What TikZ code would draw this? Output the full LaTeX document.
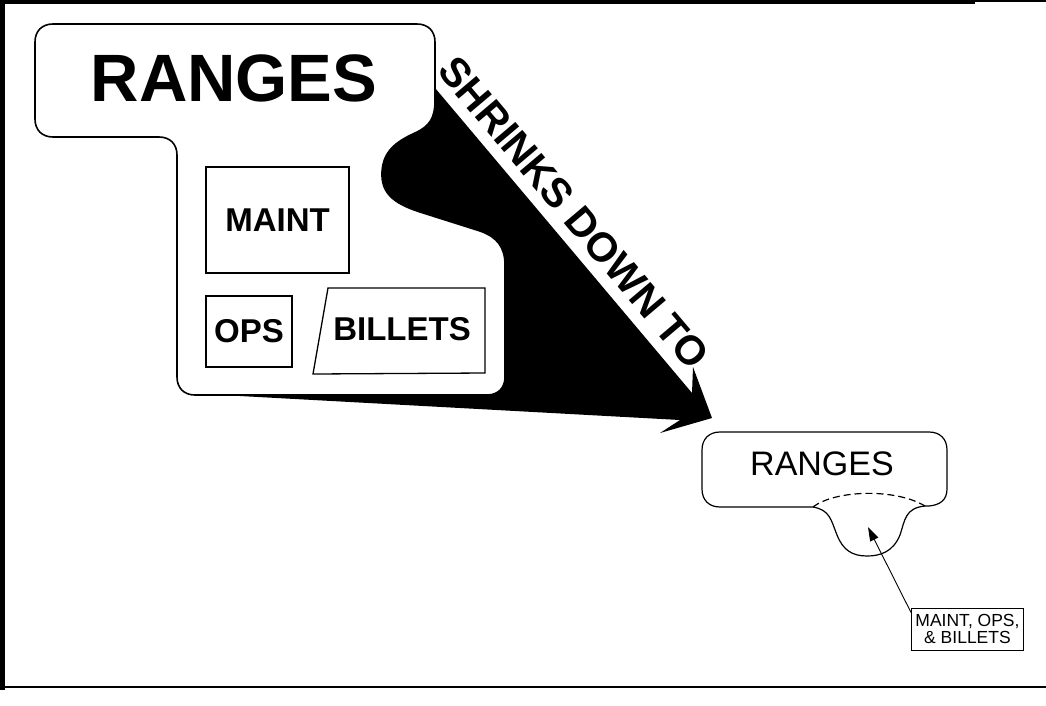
\documentclass[tikz,border=0pt]{standalone}
\usepackage{fontspec}
\setmainfont{Liberation Sans}
\usetikzlibrary{arrows.meta}
\tikzset{
  bigtxt/.style={font=\bfseries\fontsize{67}{70}\selectfont},
  boxtxt/.style={font=\bfseries\fontsize{33}{36}\selectfont},
  partbox/.style={draw, line width=1.3pt, inner sep=0pt},
  outline/.style={draw, fill=white, line width=1.6pt},
}
\begin{document}
\begin{tikzpicture}[x=1pt,y=-1pt]
\useasboundingbox (0,0) rectangle (1046,705);
%% frame
\fill (0,0) rectangle (5,690); \fill (0,0) rectangle (975,4);
\draw[line width=1.5pt] (975,1) -- (1046,1);
\draw[line width=2.5pt] (0,687) -- (1046,687);
%% big arrow
\fill (430,82) -- (692,393) -- (693,367) -- (712,418) -- (660,433) -- (680,420) -- (240,396) -- (300,300) -- (400,120) -- cycle;
%% large ranges shape
\draw[outline] (35,42) .. controls (35,31) and (42,24) .. (53,24) -- (417,24) .. controls (428,24) and (435,31) .. (435,42)
  -- (435,100) .. controls (435,118) and (430,126) .. (415,133) .. controls (395,142) and (383,152) .. (382,172)
  .. controls (381,192) and (392,203) .. (420,212) -- (480,231) .. controls (497,237) and (505,247) .. (505,265)
  -- (505,377) .. controls (505,388) and (498,395) .. (487,395) -- (195,395) .. controls (184,395) and (177,388) .. (177,377)
  -- (177,155) .. controls (177,144) and (170,137) .. (159,137) -- (53,137) .. controls (42,137) and (35,130) .. (35,119) -- cycle;
\node[bigtxt] (ranges) at (234,78) {RANGES};
\node[partbox, boxtxt, minimum width=143pt, minimum height=106pt] (maint) at (277.5,220) {MAINT};
\node[partbox, boxtxt, minimum width=86pt, minimum height=71pt] (ops) at (249,331.5) {OPS};
\draw[line width=1.3pt] (328,288) -- (485,288) -- (485,373) -- (313,374) -- cycle;
\node[boxtxt] (billets) at (402,329) {BILLETS};
\node[font=\bfseries\fontsize{41}{44}\selectfont, rotate=-49.8] (shrinks) at (574,213) {SHRINKS DOWN TO};
%% small ranges shape
\draw[line width=1.2pt] (702,450) .. controls (702,439) and (709,432) .. (720,432) -- (929,432) .. controls (940,432) and (947,439) .. (947,450)
  -- (947,489) .. controls (947,500) and (940,505) .. (929,506) -- (925,506) .. controls (905,508) and (905,520) .. (900,535)
  .. controls (893,552) and (880,556) .. (867,556) .. controls (852,556) and (843,550) .. (837,535)
  .. controls (831,520) and (830,510) .. (813,507) -- (720,507) .. controls (709,507) and (702,500) .. (702,489) -- cycle;
\draw[line width=1.2pt, dashed, dash pattern=on 7pt off 4pt] (813,507) .. controls (835,490) and (895,488) .. (925,506);
\node[font=\fontsize{34}{36}\selectfont] (small) at (822,464) {RANGES};
%% label
\node[draw, line width=0.9pt, align=center, font=\fontsize{17.5}{17}\selectfont, minimum width=112pt, minimum height=42pt, inner sep=2pt] (lbl) at (967.5,629) {MAINT, OPS,\\ \& BILLETS};
\coordinate (tip) at (868,527);
\draw[line width=0.9pt, -{Triangle[length=14pt,width=9pt]}] ([yshift=-5pt]lbl.north west) -- (tip);
\end{tikzpicture}
\end{document}
